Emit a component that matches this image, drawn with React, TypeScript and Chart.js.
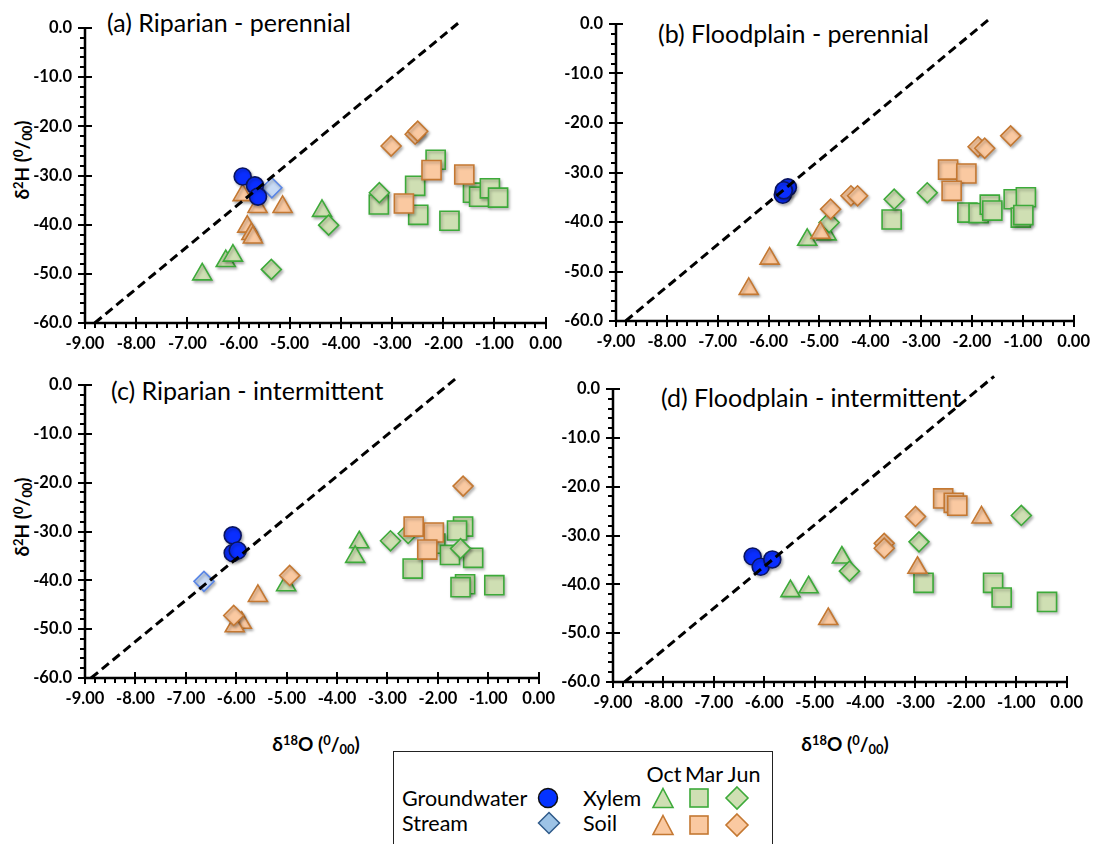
import React, { useEffect, useRef } from 'react';
import { Chart, registerables } from 'chart.js';

Chart.register(...registerables);

// ---------- axis ticks ----------
const X_TICKS = [-9, -8, -7, -6, -5, -4, -3, -2, -1, 0];
const X_TICK_LABELS = ['-9.00', '-8.00', '-7.00', '-6.00', '-5.00', '-4.00', '-3.00', '-2.00', '-1.00', '0.00'];
const Y_TICKS = [-60, -50, -40, -30, -20, -10, 0];
const Y_TICK_LABELS = ['-60.0', '-50.0', '-40.0', '-30.0', '-20.0', '-10.0', '0.0'];
const X_MINOR_STEP = 0.2;
const Y_MINOR_STEP = 2;

// ---------- panel (a) Riparian - perennial ----------
const lineXA = [-8.81, -1.65];
const lineYA = [-60, 1.5];
const gwXA = [-5.92, -5.68, -5.62];
const gwYA = [-30.2, -32.0, -34.3];
const streamXA = [-5.35];
const streamYA = [-32.5];
const xylOctXA = [-6.71, -6.25, -6.11, -4.37];
const xylOctYA = [-50.1, -47.4, -46.3, -37.2];
const xylMarXA = [-2.15, -2.55, -3.26, -2.49, -1.88, -1.42, -1.30, -1.09, -0.93];
const xylMarYA = [-26.8, -32.1, -35.9, -38.0, -39.2, -33.5, -34.3, -32.6, -34.5];
const xylJunXA = [-3.25, -4.24, -5.36];
const xylJunYA = [-33.5, -40.1, -49.1];
const soilOctXA = [-5.92, -5.63, -5.14, -5.83, -5.75, -5.72];
const soilOctYA = [-34.0, -36.4, -36.4, -40.4, -41.9, -42.6];
const soilMarXA = [-2.23, -1.59, -2.77];
const soilMarYA = [-28.9, -29.8, -35.7];
const soilJunXA = [-3.02, -2.55, -2.50];
const soilJunYA = [-24.0, -21.6, -21.0];

// ---------- panel (b) Floodplain - perennial ----------
const lineXB = [-8.81, -1.66];
const lineYB = [-60, 1.0];
const gwXB = [-5.72, -5.62, -5.70];
const gwYB = [-34.5, -33.0, -33.6];
const xylOctXB = [-5.24, -4.86];
const xylOctYB = [-43.6, -42.5];
const xylMarXB = [-3.58, -2.09, -1.87, -1.65, -1.60, -1.18, -0.94, -1.04, -0.99];
const xylMarYB = [-39.5, -38.1, -38.2, -36.5, -37.7, -35.4, -35.0, -39.1, -38.6];
const xylJunXB = [-3.53, -2.88, -4.81];
const xylJunYB = [-35.4, -34.1, -40.1];
const soilOctXB = [-4.98, -5.98, -6.39];
const soilOctYB = [-42.2, -47.4, -53.5];
const soilMarXB = [-2.47, -2.11, -2.40];
const soilMarYB = [-29.4, -30.2, -33.7];
const soilJunXB = [-4.78, -4.38, -4.25, -1.88, -1.75, -1.24];
const soilJunYB = [-37.4, -34.7, -34.7, -24.8, -25.1, -22.6];

// ---------- panel (c) Riparian - intermittent ----------
const lineXC = [-8.88, -1.6];
const lineYC = [-60, 1.7];
const gwXC = [-6.07, -6.07, -5.97];
const gwYC = [-30.8, -34.4, -33.9];
const streamXC = [-6.64];
const streamYC = [-40.2];
const xylOctXC = [-3.56, -3.64, -5.01];
const xylOctYC = [-32.2, -35.2, -41.0];
const xylMarXC = [-2.50, -1.50, -1.62, -2.05, -1.76, -1.30, -1.46, -1.55, -0.88];
const xylMarYC = [-37.6, -29.0, -29.8, -32.5, -34.8, -35.4, -40.8, -41.4, -41.0];
const xylJunXC = [-2.94, -2.59, -1.55];
const xylJunYC = [-31.9, -30.4, -33.5];
const soilOctXC = [-5.57, -5.89, -6.03];
const soilOctYC = [-43.2, -48.7, -49.4];
const soilMarXC = [-2.48, -2.08, -2.21];
const soilMarYC = [-29.0, -30.2, -33.7];
const soilJunXC = [-1.50, -4.94, -6.05];
const soilJunYC = [-20.7, -39.0, -47.2];

// ---------- panel (d) Floodplain - intermittent ----------
const lineXD = [-8.77, -1.44];
const lineYD = [-60, 2.6];
const gwXD = [-6.23, -6.07, -5.84];
const gwYD = [-34.3, -36.4, -34.9];
const xylOctXD = [-5.48, -5.12, -4.46];
const xylOctYD = [-41.4, -40.6, -34.5];
const xylMarXD = [-2.84, -1.46, -1.29, -0.39];
const xylMarYD = [-39.7, -39.7, -42.7, -43.6];
const xylJunXD = [-0.90, -2.93, -4.31];
const xylJunYD = [-25.9, -31.3, -37.3];
const soilOctXD = [-4.73, -2.96, -1.69];
const soilOctYD = [-47.1, -36.6, -26.3];
const soilMarXD = [-2.45, -2.24, -2.17];
const soilMarYD = [-22.4, -23.3, -23.9];
const soilJunXD = [-3.00, -3.62, -3.62];
const soilJunYD = [-26.1, -31.6, -32.6];

// ---------- styles ----------
const GREEN_FILL = '#CFDFB3';
const GREEN_EDGE = '#3DAA3A';
const ORANGE_FILL = '#FAC9A1';
const ORANGE_EDGE = '#C47832';
const GW_FILL = '#0A2EFF';
const GW_EDGE = '#0A1560';
const STREAM_FILL = '#C7DAF5';
const STREAM_EDGE = '#5A86E6';

const STYLES: Record<string, any> = {
  gw: { pointStyle: 'circle', radius: 8.5, fill: GW_FILL, edge: GW_EDGE },
  stream: { pointStyle: 'rectRot', radius: 10, fill: STREAM_FILL, edge: STREAM_EDGE },
  xylOct: { pointStyle: 'triangle', radius: 11, fill: GREEN_FILL, edge: GREEN_EDGE },
  xylMar: { pointStyle: 'rect', radius: 13.5, fill: GREEN_FILL, edge: GREEN_EDGE },
  xylJun: { pointStyle: 'rectRot', radius: 10, fill: GREEN_FILL, edge: GREEN_EDGE },
  soilOct: { pointStyle: 'triangle', radius: 11, fill: ORANGE_FILL, edge: ORANGE_EDGE },
  soilMar: { pointStyle: 'rect', radius: 13.5, fill: ORANGE_FILL, edge: ORANGE_EDGE },
  soilJun: { pointStyle: 'rectRot', radius: 10, fill: ORANGE_FILL, edge: ORANGE_EDGE },
};

// drawing order: first listed = on top
const DRAW_ORDER = ['gw', 'stream', 'soilJun', 'soilMar', 'soilOct', 'xylJun', 'xylMar', 'xylOct'];

const zip = (xs: number[], ys: number[]) => xs.map((x, i) => ({ x, y: ys[i] }));

type Panel = {
  title: string;
  lineX: number[];
  lineY: number[];
  series: Record<string, [number[], number[]]>;
  canvas: { left: number; top: number; width: number; height: number };
  area: { left: number; top: number; right: number; bottom: number };
  titlePos: { left: number; top: number };
};

const PANELS: Panel[] = [
  {
    title: '(a) Riparian - perennial',
    lineX: lineXA, lineY: lineYA,
    series: {
      gw: [gwXA, gwYA], stream: [streamXA, streamYA],
      xylOct: [xylOctXA, xylOctYA], xylMar: [xylMarXA, xylMarYA], xylJun: [xylJunXA, xylJunYA],
      soilOct: [soilOctXA, soilOctYA], soilMar: [soilMarXA, soilMarYA], soilJun: [soilJunXA, soilJunYA],
    },
    canvas: { left: 0, top: 0, width: 573, height: 370 },
    area: { left: 85, top: 28, right: 548, bottom: 323 },
    titlePos: { left: 107, top: 7 },
  },
  {
    title: '(b) Floodplain - perennial',
    lineX: lineXB, lineY: lineYB,
    series: {
      gw: [gwXB, gwYB],
      xylOct: [xylOctXB, xylOctYB], xylMar: [xylMarXB, xylMarYB], xylJun: [xylJunXB, xylJunYB],
      soilOct: [soilOctXB, soilOctYB], soilMar: [soilMarXB, soilMarYB], soilJun: [soilJunXB, soilJunYB],
    },
    canvas: { left: 540, top: 0, width: 561, height: 370 },
    area: { left: 616, top: 24, right: 1080, bottom: 321 },
    titlePos: { left: 658, top: 18 },
  },
  {
    title: '(c) Riparian - intermittent',
    lineX: lineXC, lineY: lineYC,
    series: {
      gw: [gwXC, gwYC], stream: [streamXC, streamYC],
      xylOct: [xylOctXC, xylOctYC], xylMar: [xylMarXC, xylMarYC], xylJun: [xylJunXC, xylJunYC],
      soilOct: [soilOctXC, soilOctYC], soilMar: [soilMarXC, soilMarYC], soilJun: [soilJunXC, soilJunYC],
    },
    canvas: { left: 0, top: 360, width: 566, height: 400 },
    area: { left: 85, top: 385, right: 541, bottom: 678 },
    titlePos: { left: 111, top: 375 },
  },
  {
    title: '(d) Floodplain - intermittent',
    lineX: lineXD, lineY: lineYD,
    series: {
      gw: [gwXD, gwYD],
      xylOct: [xylOctXD, xylOctYD], xylMar: [xylMarXD, xylMarYD], xylJun: [xylJunXD, xylJunYD],
      soilOct: [soilOctXD, soilOctYD], soilMar: [soilMarXD, soilMarYD], soilJun: [soilJunXD, soilJunYD],
    },
    canvas: { left: 540, top: 360, width: 554, height: 400 },
    area: { left: 613, top: 389, right: 1069, bottom: 682 },
    titlePos: { left: 661, top: 382 },
  },
];

const TICK_FONT = { family: 'Lato', weight: 'bold' as const, size: 16.5 };

const axesPlugin = {
  id: 'excelAxes',
  beforeDatasetsDraw(chart: any) {
    const { ctx, chartArea, scales } = chart;
    const x = scales.x;
    const y = scales.y;
    const L = Math.round(chartArea.left);
    const B = Math.round(chartArea.bottom);
    const T = Math.round(y.getPixelForValue(Y_TICKS[Y_TICKS.length - 1]));
    const R = Math.round(x.getPixelForValue(X_TICKS[X_TICKS.length - 1]));
    ctx.save();
    ctx.strokeStyle = '#000';
    ctx.lineCap = 'butt';
    ctx.lineWidth = 2.5;
    ctx.beginPath();
    ctx.moveTo(L, T - 1);
    ctx.lineTo(L, B);
    ctx.moveTo(L, B);
    ctx.lineTo(R + 1, B);
    ctx.stroke();
    ctx.lineWidth = 2;
    ctx.beginPath();
    const x0 = X_TICKS[0];
    const x1 = X_TICKS[X_TICKS.length - 1];
    const nx = Math.round((x1 - x0) / X_MINOR_STEP);
    for (let i = 0; i <= nx; i++) {
      const v = x0 + i * X_MINOR_STEP;
      const px = Math.round(x.getPixelForValue(v));
      const major = X_TICKS.some((t) => Math.abs(t - v) < 1e-6);
      if (major) {
        ctx.moveTo(px, B - 6);
        ctx.lineTo(px, B + 6);
      } else {
        ctx.moveTo(px, B);
        ctx.lineTo(px, B + 5);
      }
    }
    const y0 = Y_TICKS[0];
    const y1 = Y_TICKS[Y_TICKS.length - 1];
    const ny = Math.round((y1 - y0) / Y_MINOR_STEP);
    for (let i = 0; i <= ny; i++) {
      const v = y0 + i * Y_MINOR_STEP;
      const py = Math.round(y.getPixelForValue(v));
      const major = Y_TICKS.some((t) => Math.abs(t - v) < 1e-6);
      if (major) {
        ctx.moveTo(L - 7, py);
        ctx.lineTo(L + 7, py);
      } else {
        ctx.moveTo(L - 5, py);
        ctx.lineTo(L, py);
      }
    }
    ctx.stroke();
    ctx.restore();
  },
};

const shadowPlugin = {
  id: 'markerShadow',
  beforeDatasetDraw(chart: any, args: any) {
    const ds = chart.data.datasets[args.index];
    if (ds._shadow) {
      const ctx = chart.ctx;
      ctx.save();
      ctx.shadowColor = 'rgba(0,0,0,0.28)';
      ctx.shadowBlur = 3;
      ctx.shadowOffsetX = 1.5;
      ctx.shadowOffsetY = 2;
    }
  },
  afterDatasetDraw(chart: any, args: any) {
    const ds = chart.data.datasets[args.index];
    if (ds._shadow) chart.ctx.restore();
  },
};

function PanelChart({ panel }: { panel: Panel }) {
  const ref = useRef<HTMLCanvasElement | null>(null);
  useEffect(() => {
    if (!ref.current) return;
    const c = panel.canvas;
    const a = panel.area;
    const yw = a.left - c.left;
    const padTop = a.top - c.top;
    const padRight = c.left + c.width - a.right;
    const xh = c.top + c.height - a.bottom;

    const datasets: any[] = [
      {
        type: 'line',
        data: zip(panel.lineX, panel.lineY),
        borderColor: '#000',
        borderWidth: 3,
        borderDash: [9, 5],
        pointRadius: 0,
        fill: false,
        showLine: true,
        clip: false,
        _shadow: false,
      },
    ];
    DRAW_ORDER.forEach((key) => {
      const s = panel.series[key];
      if (!s) return;
      const st = STYLES[key];
      datasets.push({
        type: 'scatter',
        data: zip(s[0], s[1]),
        pointStyle: st.pointStyle,
        pointRadius: st.radius,
        pointBackgroundColor: st.fill,
        pointBorderColor: st.edge,
        pointBorderWidth: 1.6,
        backgroundColor: st.fill,
        borderColor: st.edge,
        clip: false,
        _shadow: true,
      });
    });

    const chart = new Chart(ref.current, {
      type: 'scatter',
      data: { datasets },
      options: {
        animation: false,
        responsive: false,
        devicePixelRatio: 1,
        events: [],
        layout: { padding: { top: padTop, right: padRight, left: 0, bottom: 0 } },
        plugins: { legend: { display: false }, tooltip: { enabled: false } },
        scales: {
          x: {
            type: 'linear',
            position: 'bottom',
            min: X_TICKS[0],
            max: X_TICKS[X_TICKS.length - 1],
            grid: { display: false, drawTicks: false },
            border: { display: false },
            afterBuildTicks: (s: any) => {
              s.ticks = X_TICKS.map((v) => ({ value: v }));
            },
            afterFit: (s: any) => {
              s.height = xh;
            },
            ticks: {
              autoSkip: false,
              maxRotation: 0,
              padding: 11,
              color: '#000',
              font: TICK_FONT,
              callback: (v: any) => X_TICK_LABELS[X_TICKS.findIndex((t) => Math.abs(t - v) < 1e-6)],
            },
          },
          y: {
            type: 'linear',
            position: 'left',
            min: Y_TICKS[0],
            max: Y_TICKS[Y_TICKS.length - 1],
            grid: { display: false, drawTicks: false },
            border: { display: false },
            afterBuildTicks: (s: any) => {
              s.ticks = Y_TICKS.map((v) => ({ value: v }));
            },
            afterFit: (s: any) => {
              s.width = yw;
            },
            ticks: {
              autoSkip: false,
              padding: 13,
              color: '#000',
              font: TICK_FONT,
              callback: (v: any) => Y_TICK_LABELS[Y_TICKS.findIndex((t) => Math.abs(t - v) < 1e-6)],
            },
          },
        },
      } as any,
      plugins: [axesPlugin, shadowPlugin],
    });
    return () => chart.destroy();
  }, [panel]);

  const c = panel.canvas;
  return (
    <canvas
      ref={ref}
      width={c.width}
      height={c.height}
      style={{ position: 'absolute', left: c.left, top: c.top, width: c.width, height: c.height, display: 'block' }}
    />
  );
}

const supStyle: React.CSSProperties = { fontSize: '0.68em', verticalAlign: '0.45em', lineHeight: 0 };
const subStyle: React.CSSProperties = { fontSize: '0.68em', verticalAlign: '-0.2em', lineHeight: 0 };

function PerMil() {
  return (
    <span>
      (<span style={supStyle}>0</span>/<span style={subStyle}>00</span>)
    </span>
  );
}

const axisTitleStyle: React.CSSProperties = {
  position: 'absolute',
  whiteSpace: 'nowrap',
  fontFamily: 'Lato',
  fontWeight: 'bold',
  fontSize: 19,
  lineHeight: '20px',
  color: '#000',
};

function YTitle({ cx, cy }: { cx: number; cy: number }) {
  return (
    <div style={{ ...axisTitleStyle, left: cx, top: cy, transform: 'translate(-50%, -50%) rotate(-90deg)' }}>
      δ<span style={supStyle}>2</span>H <PerMil />
    </div>
  );
}

function XTitle({ cx, cy }: { cx: number; cy: number }) {
  return (
    <div style={{ ...axisTitleStyle, left: cx, top: cy, transform: 'translate(-50%, -50%)' }}>
      δ<span style={supStyle}>18</span>O <PerMil />
    </div>
  );
}

const LEGEND_ROWS = ['Groundwater', 'Stream'];
const LEGEND_KINDS = ['Xylem', 'Soil'];
const LEGEND_MONTHS = ['Oct', 'Mar', 'Jun'];

function tri(cx: number, cy: number, w: number, h: number) {
  return `${cx},${cy - h / 2} ${cx + w / 2},${cy + h / 2} ${cx - w / 2},${cy + h / 2}`;
}
function dia(cx: number, cy: number, r: number) {
  return `${cx},${cy - r} ${cx + r},${cy} ${cx},${cy + r} ${cx - r},${cy}`;
}

function Legend() {
  const textStyle: React.CSSProperties = {
    position: 'absolute',
    fontFamily: 'Lato',
    fontSize: 21.5,
    lineHeight: '24px',
    color: '#000',
    whiteSpace: 'nowrap',
    transform: 'translateY(-50%)',
  };
  const rowY = [798, 823];
  const colX = [663, 699, 737];
  const fills = [[GREEN_FILL, GREEN_EDGE], [ORANGE_FILL, ORANGE_EDGE]];
  return (
    <>
      <div
        style={{
          position: 'absolute',
          left: 393,
          top: 751,
          width: 380,
          height: 120,
          border: '1.5px solid #222',
          background: '#fff',
          boxSizing: 'border-box',
        }}
      />
      {LEGEND_ROWS.map((t, i) => (
        <div key={t} style={{ ...textStyle, left: 402, top: rowY[i] }}>{t}</div>
      ))}
      {LEGEND_KINDS.map((t, i) => (
        <div key={t} style={{ ...textStyle, left: 583, top: rowY[i] }}>{t}</div>
      ))}
      {LEGEND_MONTHS.map((t, i) => (
        <div key={t} style={{ ...textStyle, left: [664, 704, 744][i], top: 774, transform: 'translate(-50%, -50%)' }}>{t}</div>
      ))}
      <svg width={1101} height={844} style={{ position: 'absolute', left: 0, top: 0, pointerEvents: 'none' }}>
        <circle cx={548} cy={798} r={9.5} fill="#0433FF" stroke="#111" strokeWidth={1.5} />
        <polygon points={dia(549, 823, 10.5)} fill="#9DC3E6" stroke="#2F5A8A" strokeWidth={1.5} />
        {fills.map((f, r) => (
          <g key={r}>
            <polygon points={tri(colX[0], rowY[r] + (r ? 2 : 0), 20, 19)} fill={f[0]} stroke={f[1]} strokeWidth={1.6} />
            <rect x={colX[1] - 9} y={rowY[r] + (r ? 2 : 0) - 9} width={18} height={18} fill={f[0]} stroke={f[1]} strokeWidth={1.6} />
            <polygon points={dia(colX[2], rowY[r] + (r ? 2 : 0), 11)} fill={f[0]} stroke={f[1]} strokeWidth={1.6} />
          </g>
        ))}
      </svg>
    </>
  );
}

export default function App() {
  useEffect(() => {
    document.body.style.margin = '0';
  }, []);
  return (
    <div
      style={{
        position: 'absolute',
        left: 0,
        top: 0,
        width: 1101,
        height: 844,
        overflow: 'hidden',
        background: '#fff',
      }}
    >
      {PANELS.map((p) => (
        <div
          key={p.title}
          style={{
            position: 'absolute',
            left: p.titlePos.left,
            top: p.titlePos.top,
            fontFamily: 'Lato',
            fontSize: 25,
            lineHeight: '30px',
            color: '#000',
            whiteSpace: 'nowrap',
          }}
        >
          {p.title}
        </div>
      ))}
      <YTitle cx={22} cy={160} />
      <YTitle cx={22} cy={517} />
      <XTitle cx={316} cy={744} />
      <XTitle cx={845} cy={744} />
      {PANELS.map((p) => (
        <PanelChart key={p.title} panel={p} />
      ))}
      <Legend />
    </div>
  );
}
